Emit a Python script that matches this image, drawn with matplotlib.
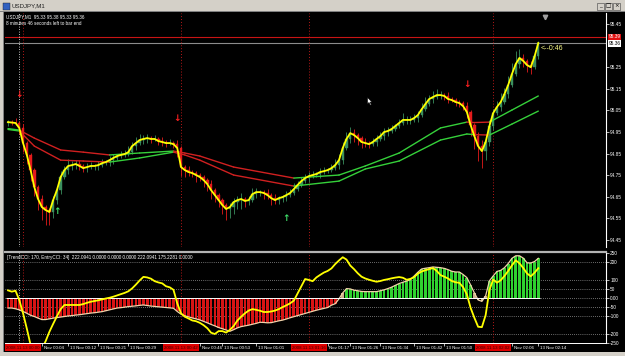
"""MT4 USDJPY M1 screenshot: price candles with MAs plus TrendCCI/EntryCCI panel."""

import matplotlib
matplotlib.use("Agg")
import matplotlib.pyplot as plt
import matplotlib.transforms as mtransforms
from matplotlib.patches import Rectangle
from matplotlib.path import Path
import numpy as np

plt.rcParams["font.family"] = ["Liberation Sans", "DejaVu Sans"]

# ---- values ----
first_open = 94.990
closes = [
    94.996, 94.994, 94.992, 94.969, 94.899, 94.844, 94.774, 94.695, 94.640, 94.603,
    94.589, 94.580, 94.635, 94.681, 94.742, 94.774, 94.793, 94.797, 94.802, 94.793,
    94.783, 94.788, 94.793, 94.793, 94.797, 94.806, 94.811, 94.820, 94.830, 94.839,
    94.844, 94.848, 94.857, 94.885, 94.899, 94.913, 94.918, 94.922, 94.918, 94.918,
    94.908, 94.904, 94.899, 94.899, 94.894, 94.876, 94.788, 94.774, 94.765, 94.760,
    94.751, 94.742, 94.728, 94.709, 94.681, 94.658, 94.635, 94.612, 94.594, 94.603,
    94.626, 94.635, 94.640, 94.631, 94.635, 94.663, 94.672, 94.672, 94.668, 94.658,
    94.644, 94.635, 94.644, 94.649, 94.658, 94.668, 94.686, 94.705, 94.723, 94.737,
    94.746, 94.751, 94.756, 94.765, 94.769, 94.774, 94.783, 94.797, 94.820, 94.876,
    94.918, 94.945, 94.936, 94.922, 94.904, 94.899, 94.894, 94.904, 94.918, 94.931,
    94.950, 94.955, 94.964, 94.978, 94.992, 95.006, 95.006, 95.006, 95.015, 95.029,
    95.056, 95.080, 95.103, 95.112, 95.121, 95.121, 95.117, 95.103, 95.098, 95.089,
    95.084, 95.070, 95.043, 94.982, 94.931, 94.885, 94.862, 94.904, 94.978, 95.038,
    95.066, 95.089, 95.126, 95.168, 95.219, 95.265, 95.293, 95.279, 95.260, 95.250,
    95.300, 95.362,
]
# wick lengths beyond the body, in pips
upper_wick = [
    1, 1, 2, 1, 2, 1, 1, 1, 1, 2,
    1, 1, 2, 2, 3, 2, 3, 2, 2, 2,
    1, 2, 2, 1, 2, 2, 1, 2, 2, 1,
    2, 2, 3, 2, 3, 3, 2, 2, 1, 2,
    1, 2, 1, 2, 1, 2, 1, 1, 2, 1,
    1, 1, 1, 1, 2, 1, 1, 1, 1, 2,
    2, 2, 3, 1, 2, 3, 2, 1, 1, 2,
    1, 2, 1, 1, 2, 2, 3, 2, 2, 2,
    2, 2, 1, 2, 2, 1, 2, 3, 3, 3,
    3, 3, 2, 1, 1, 2, 1, 2, 2, 2,
    2, 2, 2, 1, 2, 3, 2, 2, 2, 2,
    3, 3, 2, 3, 3, 2, 1, 2, 1, 1,
    1, 1, 2, 1, 1, 2, 3, 3, 3, 2,
    3, 4, 3, 4, 5, 6, 4, 2, 1, 2,
    3, 1,
]
lower_wick = [
    1, 1, 1, 3, 4, 4, 5, 4, 5, 6,
    7, 6, 3, 2, 2, 1, 2, 2, 2, 2,
    2, 2, 1, 2, 2, 1, 1, 2, 2, 1,
    1, 1, 1, 1, 2, 1, 2, 2, 2, 1,
    2, 2, 2, 1, 2, 4, 4, 3, 2, 2,
    3, 2, 3, 3, 4, 3, 3, 4, 5, 4,
    3, 3, 4, 3, 2, 1, 2, 2, 3, 2,
    3, 2, 2, 2, 2, 1, 1, 1, 1, 1,
    2, 1, 1, 2, 1, 1, 1, 1, 2, 2,
    1, 2, 3, 3, 3, 2, 2, 1, 2, 1,
    2, 2, 1, 1, 1, 1, 2, 2, 1, 2,
    1, 1, 1, 2, 1, 2, 2, 2, 1, 2,
    2, 2, 3, 5, 6, 7, 8, 4, 2, 2,
    1, 2, 1, 2, 1, 1, 2, 3, 3, 3,
    1, 1,
]

ma_bars = [0, 3, 7, 14, 20, 27, 35, 44, 47, 51, 60, 76, 88, 95, 104, 115, 122, 124, 128, 134, 141]
ma_upper = [94.966, 94.959, 94.922, 94.867, 94.857, 94.844, 94.853, 94.862, 94.853, 94.839, 94.788,
            94.737, 94.751, 94.793, 94.853, 94.969, 94.996, 94.994, 94.996, 95.052, 95.117]
ma_lower = [94.962, 94.955, 94.885, 94.820, 94.816, 94.811, 94.830, 94.857, 94.844, 94.820, 94.751,
            94.700, 94.723, 94.779, 94.816, 94.913, 94.941, 94.938, 94.936, 94.987, 95.047]

sell_bars = [3, 45, 122]
sell_prices = [95.126, 95.015, 95.168]
buy_bars = [13, 74]
buy_prices = [94.580, 94.552]

ask_price = 95.39
bid_price = 95.36
# 95.35 is hidden behind the ask/bid boxes in the screenshot
price_ticks = [94.45, 94.55, 94.65, 94.75, 94.85, 94.95, 95.05, 95.15, 95.25, 95.45]

trend_cci = [
    -56, -56, -60, -66, -75, -85, -96, -103, -112, -120,
    -120, -116, -112, -109, -106, -103, -100, -98, -95, -93,
    -90, -87, -84, -82, -79, -76, -71, -66, -61, -56,
    -54, -51, -48, -46, -44, -41, -39, -42, -45, -47,
    -49, -51, -53, -55, -57, -75, -90, -99, -105, -111,
    -116, -122, -130, -138, -147, -155, -164, -171, -178, -185,
    -176, -166, -159, -155, -151, -146, -141, -135, -136, -138,
    -137, -132, -127, -123, -117, -110, -104, -98, -92, -86,
    -80, -74, -68, -63, -58, -53, -40, -32, -5, 28,
    52, 50, 43, 40, 36, 35, 35, 35, 35, 40,
    45, 52, 60, 70, 80, 87, 94, 101, 122, 143,
    161, 165, 168, 172, 170, 168, 164, 157, 148, 144,
    144, 130, 113, 72, 28, -11, -19, 12, 95, 122,
    147, 153, 168, 191, 220, 234, 234, 221, 195, 194,
    202, 220,
]
entry_cci = [
    42, 35, 40, -12, -85, -170, -260, -305, -320, -283,
    -240, -188, -144, -102, -62, -39, -39, -39, -39, -39,
    -34, -27, -21, -17, -13, -8, -3, 1, 7, 14,
    21, 28, 37, 53, 74, 97, 117, 114, 107, 93,
    86, 81, 65, 59, 45, -30, -85, -104, -114, -125,
    -129, -138, -151, -168, -193, -200, -184, -184, -192, -177,
    -156, -125, -104, -85, -70, -62, -66, -71, -78, -78,
    -75, -70, -62, -51, -41, -30, -15, 25, 64, 105,
    100, 93, 114, 128, 141, 150, 164, 188, 208, 226,
    213, 180, 160, 137, 118, 108, 101, 95, 90, 94,
    100, 104, 109, 113, 116, 112, 101, 106, 116, 135,
    147, 154, 160, 166, 150, 127, 118, 108, 94, 87,
    84, 60, 20, -55, -110, -160, -162, -95, 44, 102,
    85, 98, 122, 150, 181, 209, 192, 166, 136, 120,
    140, 165,
]
cci_levels = [200, 100, 50, -50, -100, -200]
cci_ticks = [250, 200, 100, 50, 0, -50, -100, -200, -250]
cci_tick_labels = ["250", "200", "100", "50", "0.00", "-50", "-100", "-200", "-250"]

# labels partly covered by the red line-time boxes show only their visible part
time_tick_bars = [9, 16, 24, 32, 51, 57, 66, 85, 91, 99, 108, 116, 134, 141]
time_tick_labels = ["Nov 00:04", "13 Nov 00:12", "13 Nov 00:21", "13 Nov 00:29", "Nov 00:46",
                    "13 Nov 00:53", "13 Nov 01:01", "Nov 01:17", "13 Nov 01:26", "13 Nov 01:34",
                    "13 Nov 01:42", "13 Nov 01:50", "Nov 02:06", "13 Nov 02:14"]
vline_bars = [4, 46, 80, 129]
vline_labels = ["2008.11.13 00:00", "2008.11.13 00:42", "2008.11.13 01:16", "2008.11.13 02:02"]
crosshair_bar = 3
cursor_bar, cursor_price = 95.5, 95.112

window_title = "USDJPY,M1"
header_lines = ["USDJPY,M1  95.33 95.38 95.33 95.36", "8 minutes 46 seconds left to bar end"]
cci_header = "[TrendCCI: 170, EntryCCI: 34]  222.0941 0.0000 0.0000 0.0000 222.0941 175.2281 0.0000"
countdown = "<--0:46"

# ---- styling ----
W, H = 625, 356
PIP = 0.01
CANDLE_GREEN = "#3a8f5e"
CANDLE_RED = "#e41b1b"
MA_GREEN = "#35d03a"
MA_RED = "#d02020"
HIST_GREEN = "#2fd12f"
HIST_RED = "#d81414"
HIST_TAN = "#c8b088"
FRAME = "#d4d0c8"


def fig_box(x0, y0, x1, y1):
    """Pixel box (top-left origin) to figure fraction [left, bottom, w, h]."""
    return [x0 / W, 1 - y1 / H, (x1 - x0) / W, (y1 - y0) / H]


def style_axes(a):
    for side in ("left", "top", "bottom"):
        a.spines[side].set_visible(False)
    a.spines["right"].set_color("white")
    a.spines["right"].set_linewidth(0.8)
    a.yaxis.tick_right()
    a.tick_params(axis="y", colors="white", labelsize=3.4, length=2, width=0.5, pad=1)
    a.tick_params(axis="x", bottom=False, labelbottom=False)
    a.set_xlim(-0.8, 159.0)


def draw_price(ax):
    x = np.arange(len(closes))
    c = np.array(closes)
    o = np.array([first_open] + closes[:-1])
    hi = np.maximum(o, c) + np.array(upper_wick) * PIP
    lo = np.minimum(o, c) - np.array(lower_wick) * PIP
    colors = np.where(c >= o, CANDLE_GREEN, CANDLE_RED)
    ax.vlines(x, lo, hi, colors=colors, lw=0.6, zorder=2)
    ax.bar(x, c - o, bottom=o, width=0.62, color=colors, edgecolor=colors, lw=0.3, zorder=3)

    # moving averages, coloured by which side of them the price sits
    for ma in (ma_upper, ma_lower):
        for k in range(len(ma_bars) - 1):
            a, b = ma_bars[k], ma_bars[k + 1]
            above = c[a:b + 1].mean() > (ma[k] + ma[k + 1]) / 2
            ax.plot([a, b], [ma[k], ma[k + 1]], color=MA_GREEN if above else MA_RED,
                    lw=1.0, solid_capstyle="round", zorder=4)

    ax.plot(x, c, color="#ffff00", lw=1.3, zorder=5)

    for b, p in zip(sell_bars, sell_prices):
        ax.text(b, p, "\u2193", color="#ff2020", fontsize=6.5, fontweight="bold",
                ha="center", va="center", family="DejaVu Sans", zorder=6)
    for b, p in zip(buy_bars, buy_prices):
        ax.text(b, p, "\u2191", color="#3fe06a", fontsize=6.5, fontweight="bold",
                ha="center", va="center", family="DejaVu Sans", zorder=6)

    ax.axhline(ask_price, color="#c81414", lw=0.8, zorder=1)
    ax.axhline(bid_price, color="#8c8c8c", lw=0.8, zorder=1)

    ax.set_ylim(94.418, 95.501)
    ax.set_yticks(price_ticks, [f"{t:.2f}" for t in price_ticks])

    ytrans = mtransforms.blended_transform_factory(ax.transAxes, ax.transData)
    ax.text(1.004, ask_price, f"{ask_price:.2f}", transform=ytrans, color="white", fontsize=3.4,
            ha="left", va="center", clip_on=False, zorder=10,
            bbox=dict(boxstyle="square,pad=0.15", fc="#e01010", ec="none"))
    ax.text(1.004, bid_price, f"{bid_price:.2f}", transform=ytrans, color="black", fontsize=3.4,
            ha="left", va="center", clip_on=False, zorder=10,
            bbox=dict(boxstyle="square,pad=0.15", fc="white", ec="none"))

    ax.text(0.002, 0.983, header_lines[0], transform=ax.transAxes, color="white",
            fontsize=3.3, ha="left", va="center")
    ax.text(0.002, 0.957, header_lines[1], transform=ax.transAxes, color="white",
            fontsize=3.3, ha="left", va="center")
    ax.text(len(closes) - 0.3, 95.339, countdown, color="#ffff8a", fontsize=5,
            ha="left", va="center", zorder=6)

    # chart-shift marker and the mouse pointer
    xtrans = mtransforms.blended_transform_factory(ax.transData, ax.transAxes)
    ax.plot([142.8], [0.985], marker="v", ms=3.2, color="#a0a0a0", transform=xtrans, clip_on=False)
    cursor = Path([(0, 0), (0, -17), (4, -13), (7, -20), (10, -19), (7, -12), (12, -12), (0, 0)])
    ax.plot([cursor_bar], [cursor_price], marker=cursor, ms=11, mfc="white", mec="black",
            mew=0.4, zorder=9)


def draw_cci(ax2):
    x = np.arange(len(trend_cci))
    bar_colors = [HIST_TAN if abs(v) < 30 else (HIST_GREEN if v > 0 else HIST_RED) for v in trend_cci]
    for lvl in cci_levels + [0]:
        ax2.axhline(lvl, color="#d0d0d0", lw=0.5, ls=(0, (1, 2)), zorder=1)
    ax2.bar(x, trend_cci, width=0.72, color=bar_colors, zorder=2)
    ax2.plot(x, trend_cci, color="#f2d3aa", lw=0.9, zorder=3)
    ax2.hlines(0, x[0] - 0.5, x[-1] + 0.5, color="white", lw=0.7, zorder=3)
    ax2.plot(x, entry_cci, color="#ffff00", lw=1.3, zorder=4)

    ax2.set_ylim(-250, 255)
    ax2.set_yticks(cci_ticks, cci_tick_labels)
    ax2.spines["top"].set_visible(True)
    ax2.spines["top"].set_color("#b4b4b4")
    ax2.spines["top"].set_linewidth(1.6)
    ax2.spines["bottom"].set_visible(True)
    ax2.spines["bottom"].set_color("white")
    ax2.spines["bottom"].set_linewidth(0.7)

    ax2.text(0.003, 0.945, cci_header, transform=ax2.transAxes, color="white",
             fontsize=3.3, ha="left", va="center")

    ax2.set_xticks(time_tick_bars)
    ax2.tick_params(axis="x", bottom=True, labelbottom=False, length=2.5, width=0.5,
                    color="white", direction="out")
    xtrans = mtransforms.blended_transform_factory(ax2.transData, ax2.transAxes)
    for b, label in zip(time_tick_bars, time_tick_labels):
        ax2.text(b + 0.45, -0.05, label, transform=xtrans, color="white", fontsize=3.2,
                 ha="left", va="center", clip_on=False, zorder=3)
    for b, label in zip(vline_bars, vline_labels):
        ax2.text(b, -0.05, label, transform=xtrans, color="#3a0000", fontsize=3.2,
                 ha="center", va="center", clip_on=False, zorder=8,
                 bbox=dict(boxstyle="square,pad=0.25", fc="#e00000", ec="none"))


def draw_window(fig):
    def rect(x0, y0, x1, y1, **kw):
        fig.add_artist(Rectangle(fig_box(x0, y0, x1, y1)[:2], (x1 - x0) / W, (y1 - y0) / H,
                                 transform=fig.transFigure, **kw))

    rect(0, 0, W, 12, fc=FRAME, ec="none")
    rect(0, 11.3, W, 12, fc="#808080", ec="none")
    rect(0, 12, 4, H, fc=FRAME, ec="none")
    rect(3.3, 12, 4, 352, fc="#808080", ec="none")
    rect(0, 352, W, H, fc=FRAME, ec="none")
    # window icon and title
    rect(2.5, 2.5, 9.5, 9.5, fc="#3060c0", ec="#202020", lw=0.3)
    fig.text(12 / W, 1 - 6 / H, window_title, color="#202020", fontsize=4.4, ha="left", va="center")
    for x0, glyph in zip((597, 605, 613), ("_", "\u25a1", "\u00d7")):
        rect(x0, 2.5, x0 + 7, 9.5, fc=FRAME, ec="#404040", lw=0.4)
        fig.text((x0 + 3.5) / W, 1 - 6 / H, glyph, color="black", fontsize=4,
                 ha="center", va="center", family="DejaVu Sans")


def main():
    fig = plt.figure(figsize=(W / 100, H / 100), dpi=100, facecolor="black")
    ax = fig.add_axes(fig_box(5, 13, 606, 247), facecolor="black")
    ax2 = fig.add_axes(fig_box(5, 252, 606, 343), facecolor="black")
    style_axes(ax)
    style_axes(ax2)

    draw_price(ax)
    draw_cci(ax2)

    for a in (ax, ax2):
        a.axvline(crosshair_bar, color="white", lw=0.6, ls=(0, (1, 2)), zorder=1)
        for b in vline_bars:
            a.axvline(b, color="#b81818", lw=0.7, ls=(0, (1, 2)), zorder=1)

    draw_window(fig)
    fig.savefig("out.png", dpi=100, facecolor="black")
    plt.close(fig)


if __name__ == "__main__":
    main()
